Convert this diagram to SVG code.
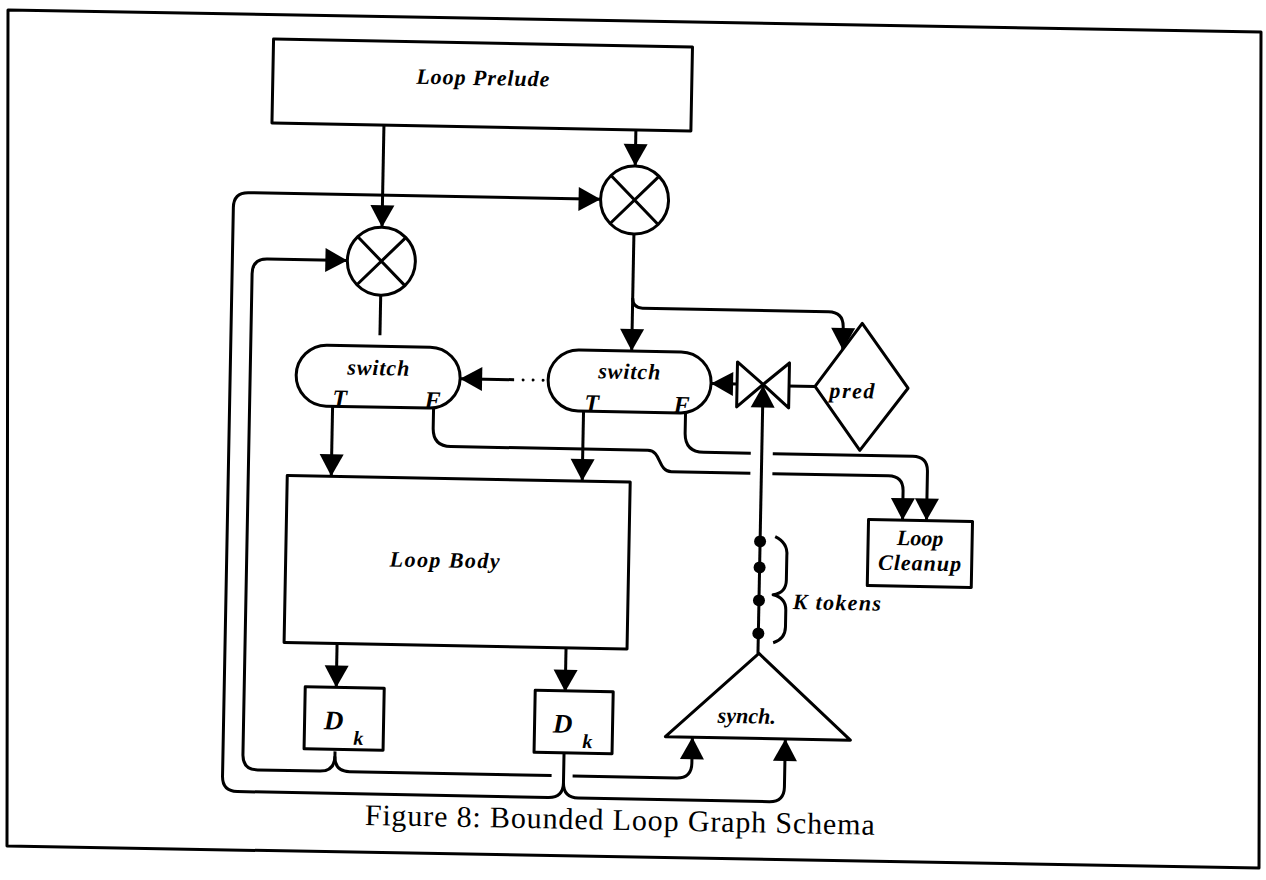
<svg xmlns="http://www.w3.org/2000/svg" width="1266" height="880" viewBox="0 0 1266 880">
<style>
.ln{fill:none;stroke:#000;stroke-width:3;stroke-linejoin:round}
.nd{fill:#fff;stroke:#000;stroke-width:3;stroke-linejoin:round}
.lb{font-family:"Liberation Serif",serif;font-weight:bold;font-style:italic;font-size:22px;fill:#000;text-anchor:middle}
.tf{font-size:24px}
.dd{font-size:27px}
.kk{font-size:20px}
.st{text-anchor:start}
.cap{font-family:"Liberation Serif",serif;font-size:30px;fill:#000}
</style>
<defs>
<marker id="ah" markerUnits="userSpaceOnUse" markerWidth="22" markerHeight="24" refX="22" refY="12" orient="auto" overflow="visible">
<path d="M0,0 L22,12 L0,24 Z" fill="#000"/>
</marker>
</defs>
<rect width="1266" height="880" fill="#fff"/>
<g id="frame"><path class="ln" d="M8,10 L1261,32 L1259,868 L7,846 Z"/></g>
<g transform="rotate(1.09 633 440)">
<g id="connectors">
<path class="ln" d="M378,130 V232" marker-end="url(#ah)"/>
<path class="ln" d="M630,130 V166" marker-end="url(#ah)"/>
<path class="ln" d="M570,755 V784 Q570,799 555,799 H244 Q229,799 229,784 V215 Q229,200 244,200 H596" marker-end="url(#ah)"/>
<path class="ln" d="M570,784 Q570,799 585,799 H776 Q791,799 791,784 V736" marker-end="url(#ah)"/>
<path class="ln" d="M341,757 V762 Q341,777 326,777 H264 Q249,777 249,762 V281 Q249,266 264,266 H344" marker-end="url(#ah)"/>
<path class="ln" d="M341,762 Q341,777 356,777 H558 M579,777 H683 Q698,777 698,762 V736" marker-end="url(#ah)"/>
<path class="ln" d="M378,300 V340"/>
<path class="ln" d="M630,234 V351" marker-end="url(#ah)"/>
<path class="ln" d="M630,298 Q630,308 640,308 H826 Q841,308 841,323 V346" marker-end="url(#ah)"/>
<path class="ln" d="M332,412 V482" marker-end="url(#ah)"/>
<path class="ln" d="M583,412 V482" marker-end="url(#ah)"/>
<path class="ln" d="M433,412 V432 Q433,450 451,450 H648 C662,450 658,471 672,471 H751 M773,471 H889 Q904,471 904,486 V515" marker-end="url(#ah)"/>
<path class="ln" d="M685,412 V432 Q685,451 704,451 H751 M773,451 H913 Q928,451 928,466 V515" marker-end="url(#ah)"/>
<path class="ln" d="M513,382 H459" marker-end="url(#ah)"/>
<path class="ln" d="M522,382 H546" stroke-dasharray="0 10" stroke-linecap="round"/>
<path class="ln" d="M736,382 H710" marker-end="url(#ah)"/>
<path class="ln" d="M814,383 H786"/>
<path class="ln" d="M762,651 V383" marker-end="url(#ah)"/>
<path class="ln" d="M341,649 V693" marker-end="url(#ah)"/>
<path class="ln" d="M570,649 V693" marker-end="url(#ah)"/>
</g>
<g id="prelude"><rect class="nd" x="266" y="46" width="419" height="84"/><text class="lb" x="476" y="88" textLength="133">Loop Prelude</text></g>
<g id="merge2"><circle class="nd" cx="630" cy="200" r="34"/><path class="ln" d="M606,176 L654,224 M654,176 L606,224"/></g>
<g id="merge1"><circle class="nd" cx="378" cy="266" r="34"/><path class="ln" d="M354,242 L402,290 M402,242 L354,290"/></g>
<g id="switch1"><rect class="nd" x="295" y="351" width="164" height="61" rx="30.5"/><text class="lb" x="377" y="380" textLength="62">switch</text><text class="lb tf" x="339" y="412">T</text><text class="lb tf" x="432" y="412">F</text></g>
<g id="switch2"><rect class="nd" x="547" y="351" width="163" height="61" rx="30.5"/><text class="lb" x="628" y="379" textLength="62">switch</text><text class="lb tf" x="591" y="412">T</text><text class="lb tf" x="681" y="412">F</text></g>
<g id="gate"><path class="nd" d="M736,360 L736,405 L762,382 Z M788,360 L788,405 L762,382 Z"/></g>
<g id="pred"><path class="nd" d="M860,319 L907,383 L860,446 L814,383 Z"/><text class="lb" x="851" y="394" textLength="45">pred</text></g>
<g id="body"><rect class="nd" x="288" y="482" width="343" height="167"/><text class="lb" x="447" y="571" textLength="110">Loop Body</text></g>
<g id="cleanup"><rect class="nd" x="870" y="515" width="104" height="66"/><text class="lb" x="922" y="540">Loop</text><text class="lb" x="922" y="565" textLength="83">Cleanup</text></g>
<g id="dk1"><rect class="nd" x="310" y="693" width="79" height="62"/><text class="lb dd" x="339" y="735">D</text><text class="lb kk" x="364" y="750">k</text></g>
<g id="dk2"><rect class="nd" x="540" y="692" width="78" height="62"/><text class="lb dd" x="568" y="734">D</text><text class="lb kk" x="593" y="749">k</text></g>
<g id="synch"><path class="nd" d="M763,651 L856,736 L671,736 Z"/><text class="lb" x="752" y="721">synch.</text></g>
<g id="tokens"><circle cx="762" cy="539" r="6"/><circle cx="762" cy="565" r="6"/><circle cx="762" cy="598" r="6"/><circle cx="762" cy="631" r="6"/>
<path class="ln" d="M777,534 Q790,540 789,553 V577 Q789,590 776,592 Q789,595 789,607 V624 Q789,636 777,640"/>
<text class="lb st" x="796" y="606" textLength="88">K tokens</text></g>
<text class="cap" x="372" y="830" textLength="510">Figure 8: Bounded Loop Graph Schema</text>
</g>
</svg>
